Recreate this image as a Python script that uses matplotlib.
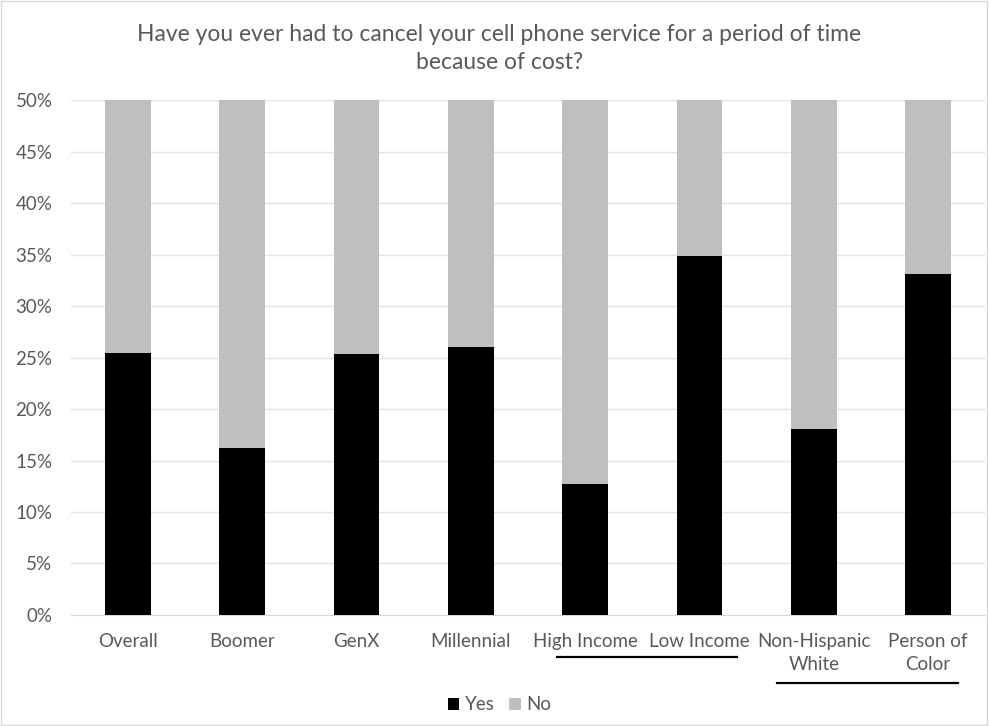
import matplotlib
matplotlib.use('Agg')
import matplotlib.pyplot as plt
import matplotlib.transforms as mtransforms
from matplotlib.patches import Rectangle
from matplotlib.ticker import PercentFormatter
import numpy as np

categories = ['Overall', 'Boomer', 'GenX', 'Millennial', 'High Income',
              'Low Income', 'Non-Hispanic\nWhite', 'Person of\nColor']
yes = [0.254, 0.162, 0.253, 0.260, 0.127, 0.349, 0.181, 0.331]
no = [1 - v for v in yes]
title = 'Have you ever had to cancel your cell phone service for a period of time\nbecause of cost?'

TEXT = '#595959'
plt.rcParams['font.family'] = ['Lato', 'DejaVu Sans']

fig = plt.figure(figsize=(9.89, 7.26), dpi=100)
ax = fig.add_axes([0.0713, 0.153, 0.925, 0.709])

x = np.arange(len(categories))
ax.bar(x, yes, width=0.4, color='black', label='Yes', zorder=3)
ax.bar(x, no, bottom=yes, width=0.4, color='#bfbfbf', label='No', zorder=3)

ax.set_xlim(-0.5, len(categories) - 0.5)
ax.set_ylim(0, 0.5)
ax.set_yticks(np.arange(0, 0.51, 0.05))
ax.yaxis.set_major_formatter(PercentFormatter(1.0, decimals=0))
ax.set_xticks(x)
ax.set_xticklabels(categories, linespacing=1.45)
ax.tick_params(axis='both', length=0, labelsize=13.5, labelcolor=TEXT)
ax.tick_params(axis='x', pad=13)
ax.tick_params(axis='y', pad=13)
ax.grid(axis='y', color='#e3e3e3', lw=1, zorder=0)
for s in ['top', 'right', 'left']:
    ax.spines[s].set_visible(False)
ax.spines['bottom'].set_color('#d9d9d9')

fig.text(0.505, 0.933, title, ha='center', va='center', fontsize=16.5,
         color=TEXT, linespacing=1.4)

# underlines grouping paired categories
trans = mtransforms.blended_transform_factory(ax.transData, fig.transFigure)
ax.plot([3.755, 5.33], [1 - 657 / 726] * 2, color='black', lw=1.6,
        transform=trans, clip_on=False)
ax.plot([5.68, 7.26], [1 - 683 / 726] * 2, color='black', lw=1.6,
        transform=trans, clip_on=False)

fig.legend(loc='center', bbox_to_anchor=(0.505, 1 - 705 / 726), ncol=2,
           frameon=False, fontsize=13.5, labelcolor=TEXT, handlelength=0.6,
           handleheight=0.6, handletextpad=0.3, columnspacing=0.8)

fig.add_artist(Rectangle((0.001, 0.001), 0.997, 0.997, transform=fig.transFigure,
                         fill=False, edgecolor='#d9d9d9', lw=1))

fig.savefig('out.png', dpi=100)
